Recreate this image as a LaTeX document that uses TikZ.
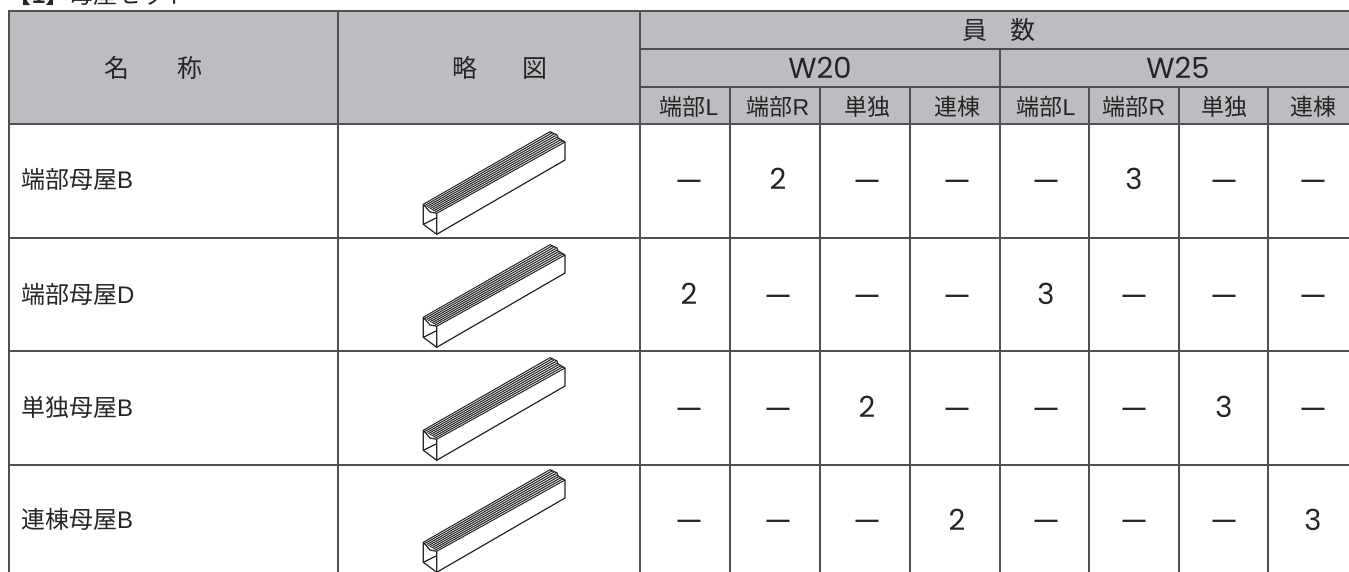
\documentclass[tikz,border=0pt]{standalone}
\usepackage{fontspec}
\usetikzlibrary{calc}
\newfontfamily\cjk{Noto Sans CJK JP}
\newfontfamily\lat{Liberation Sans}
\newfontfamily\rnd{Poppins}
\definecolor{hdr}{HTML}{BCBDC0}
\definecolor{rulec}{HTML}{505052}
\definecolor{ink}{HTML}{262425}
\tikzset{
  x=1pt,y=-1pt,
  tablerule/.style={draw=rulec,line width=2pt},
  txtbase/.style={inner sep=0pt,outer sep=0pt,text=ink,anchor=base},
  headtxt/.style={txtbase,font=\fontsize{25}{25}\selectfont\cjk},
  subtxt/.style={txtbase,font=\fontsize{23}{23}\selectfont\cjk},
  wlab/.style={txtbase,font=\fontsize{29}{29}\selectfont\rnd},
  nametxt/.style={txtbase,anchor=base west,font=\fontsize{24}{24}\selectfont\cjk},
  numtxt/.style={txtbase,font=\fontsize{29}{29}\selectfont\rnd},
  dashmark/.style={txtbase,font=\fontsize{23}{23}\selectfont\lat\bfseries},
  sketchedge/.style={draw=ink,line width=1.2pt,line join=miter},
  sketchrib/.style={draw=ink,line width=1.05pt},
  pics/purlin/.style={code={
    \coordinate (-A) at (23.3,79.3);
    \coordinate (-B) at (36.7,88.3);
    \coordinate (-C) at (36.7,109.3);
    \coordinate (-D) at (23.3,99.3);
    \coordinate (-E) at (150,6.7);
    \coordinate (-F) at (165,17);
    \coordinate (-G) at (165,35);
    \foreach \t in {0,0.125,...,1.01}{
      \draw[sketchrib] ($(-A)!\t!(-B)$) -- ($(-E)!\t!(-F)$);
    }
    \draw[sketchedge] (-A) -- (-D) -- (-C) -- (-B);
    \draw[sketchedge] (-D) -- (36.7,92.7);
    \draw[sketchedge] (-A) -- (30,87) -- (-B);
    \draw[sketchedge] (-E) -- (157,10) -- (158,13) -- (-F);
    \draw[sketchedge] (-C) -- (-G) -- (-F);
  }}
}
\begin{document}
\begin{tikzpicture}
\useasboundingbox (0,0) rectangle (1349,572);
\clip (0,0) rectangle (1349,572);
% header backgrounds
\fill[hdr] (9,11) rectangle (1349,124);
% horizontal rules
\draw[tablerule] (9,11) -- (1349,11);
\draw[tablerule] (640,49) -- (1349,49);
\draw[tablerule] (640,87) -- (1349,87);
\draw[tablerule] (9,124) -- (1349,124);
\foreach \y in {237.5,351,464.5} \draw[tablerule] (9,\y) -- (1349,\y);
% vertical rules
\foreach \x in {9,338,640} \draw[tablerule] (\x,10) -- (\x,572);
\draw[tablerule] (1000,49) -- (1000,572);
\foreach \x in {730,820,910,1089,1179,1268} \draw[tablerule] (\x,87) -- (\x,572);
% title
\node[nametxt] (title) at (8,4) {【{\lat\bfseries 1}】母屋セット};
% header
\node[headtxt] (h1) at (117,78) {名};
\node[headtxt] (h2) at (190,78) {称};
\node[headtxt] (h3) at (465,78) {略};
\node[headtxt] (h4) at (535,78) {図};
\node[headtxt] (h5) at (975,40) {員};
\node[headtxt] (h6) at (1023,40) {数};
\node[wlab] (w20) at (820,78.5) {W20};
\node[wlab] (w25) at (1178,78.5) {W25};
\node[subtxt] (s1) at (689,115.5) {端部{\lat L}};
\node[subtxt] (s2) at (778,115.5) {端部{\lat R}};
\node[subtxt] (s3) at (867,115.5) {単独};
\node[subtxt] (s4) at (957,115.5) {連棟};
\node[subtxt] (s5) at (1046,115.5) {端部{\lat L}};
\node[subtxt] (s6) at (1134,115.5) {端部{\lat R}};
\node[subtxt] (s7) at (1224,115.5) {単独};
\node[subtxt] (s8) at (1313,115.5) {連棟};
% names
\node[nametxt] (n1) at (21,189) {端部母屋{\lat B}};
\node[nametxt] (n2) at (21,303) {端部母屋{\lat D}};
\node[nametxt] (n3) at (21,416) {単独母屋{\lat B}};
\node[nametxt] (n4) at (21,528) {連棟母屋{\lat B}};
% sketches
\pic (p1) at (400,125) {purlin};
\pic (p2) at (400,238) {purlin};
\pic (p3) at (400,351) {purlin};
\pic (p4) at (400,463) {purlin};
% row 1
\foreach \x/\n in {689/a,867/c,957/d,1046/e,1224/g,1313/h}
  \node[dashmark] (r1\n) at (\x,188) {—};
\node[numtxt] (r1b) at (778,190) {2};
\node[numtxt] (r1f) at (1134,190) {3};
% row 2
\foreach \x/\n in {778/b,867/c,957/d,1134/f,1224/g,1313/h}
  \node[dashmark] (r2\n) at (\x,302) {—};
\node[numtxt] (r2a) at (689,304) {2};
\node[numtxt] (r2e) at (1046,304) {3};
% row 3
\foreach \x/\n in {689/a,778/b,957/d,1046/e,1134/f,1313/h}
  \node[dashmark] (r3\n) at (\x,415) {—};
\node[numtxt] (r3c) at (867,417) {2};
\node[numtxt] (r3g) at (1224,417) {3};
% row 4
\foreach \x/\n in {689/a,778/b,867/c,1046/e,1134/f,1224/g}
  \node[dashmark] (r4\n) at (\x,527) {—};
\node[numtxt] (r4d) at (957,530) {2};
\node[numtxt] (r4h) at (1313,530) {3};
\end{tikzpicture}
\end{document}
